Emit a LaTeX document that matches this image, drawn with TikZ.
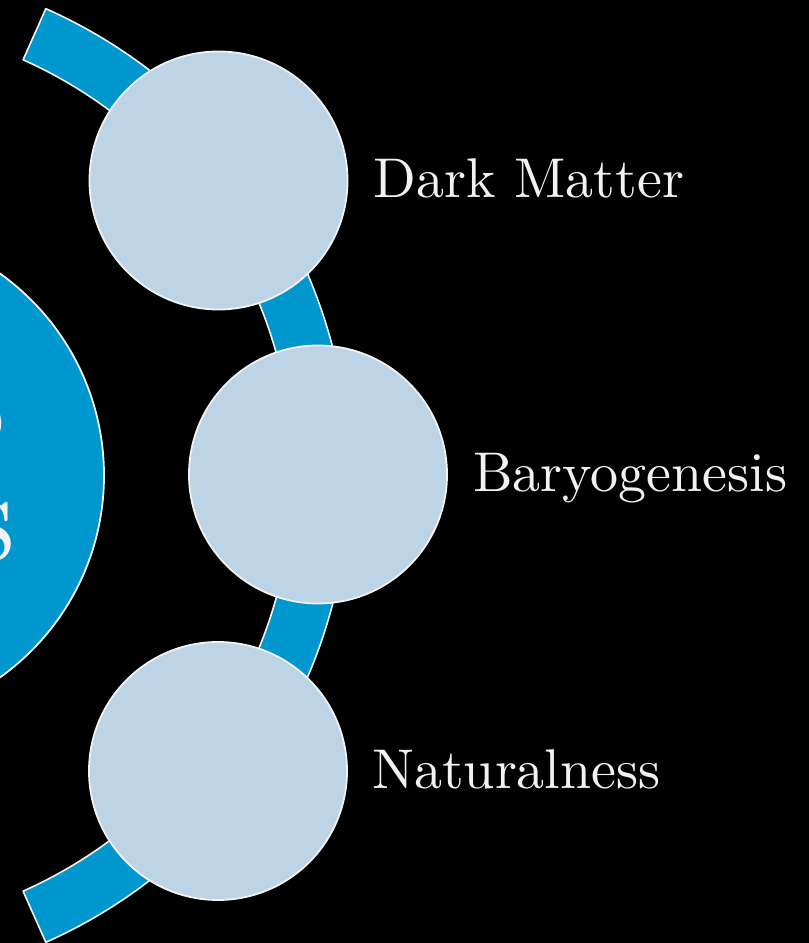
\documentclass[tikz,border=0pt]{standalone}
\usepackage{fontspec}
\setmainfont{lmroman10-regular}[Extension=.otf]
\usepackage{tikz}
\usetikzlibrary{positioning,calc}
\definecolor{bandblue}{RGB}{0,150,206}
\definecolor{paleblue}{RGB}{189,212,231}
\definecolor{txtwhite}{RGB}{242,242,242}

\begin{document}
\begin{tikzpicture}[x=1pt,y=1pt,line join=round,
  topic/.style={circle,fill=paleblue,draw=txtwhite,line width=1.8pt,minimum size=258pt,inner sep=0pt},
  lbl/.style={text=txtwhite,font=\fontsize{56}{60}\selectfont,inner sep=0pt,anchor=base west},
  hub/.style={text=txtwhite,font=\fontsize{130}{110}\selectfont,inner sep=0pt,anchor=base east}]
  \useasboundingbox (0,0) rectangle (809,943);
  \clip (0,0) rectangle (809,943);
  \fill[black] (0,0) rectangle (809,943);
  \coordinate (O) at (-162,467.5);
  % band
  \draw[fill=bandblue,draw=txtwhite,line width=1.6pt]
    ($(O)+(66:511)$) arc[start angle=66,end angle=-66,radius=511]
    -- ($(O)+(-66:455)$) arc[start angle=-66,end angle=66,radius=455] -- cycle;
  % hub
  \draw[fill=bandblue,draw=txtwhite,line width=1.8pt] (-144,467.5) circle (248);
  \node[hub] (hubo) at (6,491) {o};
  \node[hub] (hubs) at (16,382) {s};
  % topics
  \node[topic] (dm) at (218.5,762.5) {};
  \node[topic] (bg) at (318,468.5) {};
  \node[topic] (nt) at (218,172) {};
  \node[lbl] (dmlbl) at ([xshift=25pt,yshift=-17pt]dm.east) {Dark Matter};
  \node[lbl] (bglbl) at ([xshift=25pt,yshift=-17pt]bg.east) {Baryogenesis};
  \node[lbl] (ntlbl) at ([xshift=24pt,yshift=-18pt]nt.east) {Naturalness};
\end{tikzpicture}
\end{document}
